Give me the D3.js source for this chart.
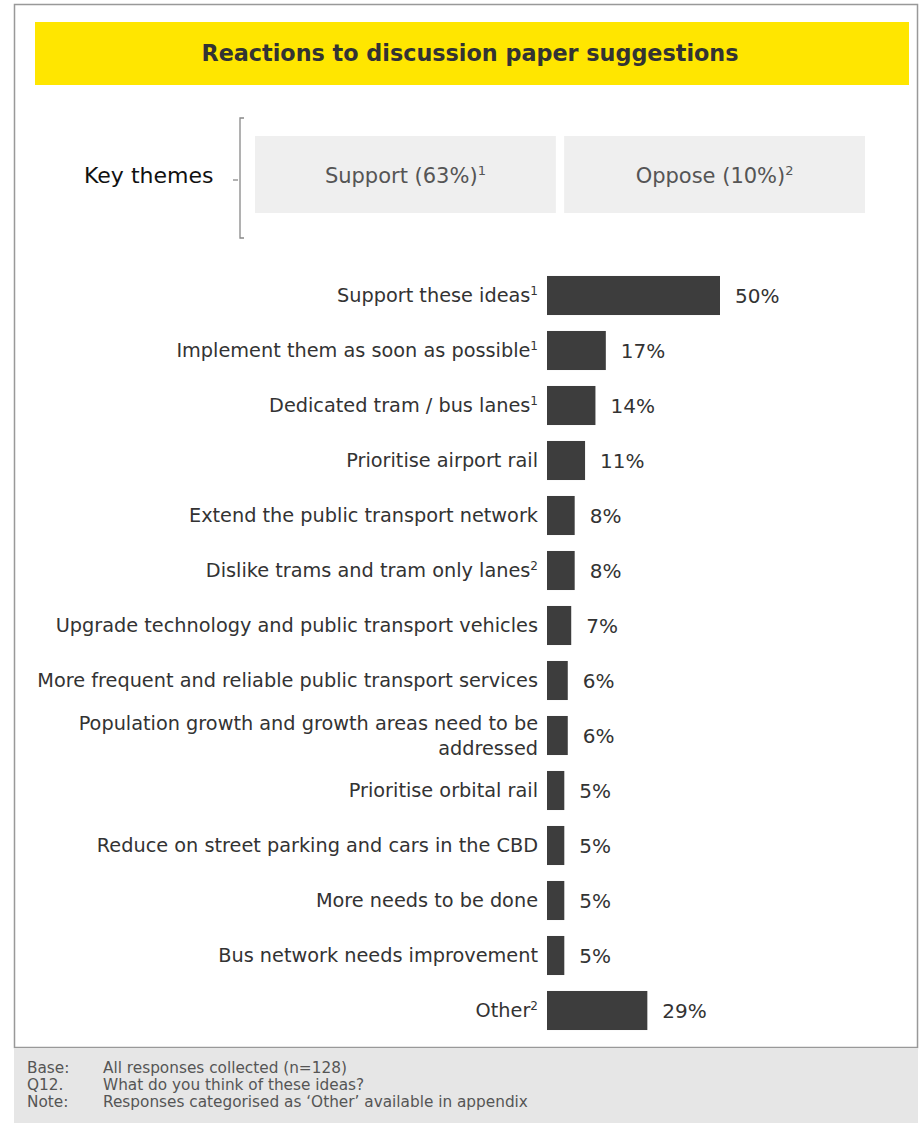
<!DOCTYPE html>
<html><head><meta charset="utf-8">
<script src="https://cdn.jsdelivr.net/npm/d3@7/dist/d3.min.js"></script>
<style>body{margin:0;background:#fff}svg{display:block}</style>
</head><body>
<script>
const categories = [
  "Support these ideas", "Implement them as soon as possible", "Dedicated tram / bus lanes",
  "Prioritise airport rail", "Extend the public transport network", "Dislike trams and tram only lanes",
  "Upgrade technology and public transport vehicles", "More frequent and reliable public transport services",
  "Population growth and growth areas need to be|addressed", "Prioritise orbital rail",
  "Reduce on street parking and cars in the CBD", "More needs to be done",
  "Bus network needs improvement", "Other"
];
const footnotes = ["1","1","1","","","2","","","","","","","","2"];
const values = [50,17,14,11,8,8,7,6,6,5,5,5,5,29];
const themes = ["Support (63%)", "Oppose (10%)"];
const themeNotes = ["1","2"];
const footLabels = ["Base:", "Q12.", "Note:"];
const footTexts = ["All responses collected (n=128)", "What do you think of these ideas?", "Responses categorised as \u2018Other\u2019 available in appendix"];

const W = 923, H = 1123;
const font = "'DejaVu Sans', sans-serif";
const svg = d3.select("body").append("svg").attr("width", W).attr("height", H).style("font-family", font);

// outer frame
svg.append("rect").attr("x", 14.5).attr("y", 4.5).attr("width", 903).attr("height", 1043)
  .attr("fill", "#fff").attr("stroke", "#999").attr("stroke-width", 1.5);
// footer
svg.append("rect").attr("x", 14).attr("y", 1048).attr("width", 904).attr("height", 75).attr("fill", "#e6e6e6");
footLabels.forEach((l, i) => {
  const y = 1073 + i * 17;
  svg.append("text").attr("x", 27).attr("y", y).text(l).attr("font-size", 15.3).attr("fill", "#555");
  svg.append("text").attr("x", 103).attr("y", y).text(footTexts[i]).attr("font-size", 15.3).attr("fill", "#555");
});

// title banner
svg.append("rect").attr("x", 35).attr("y", 22).attr("width", 874).attr("height", 63).attr("fill", "#ffe600");
svg.append("text").attr("x", 470).attr("y", 61).attr("text-anchor", "middle")
  .attr("font-size", 22.3).attr("font-weight", "bold").attr("fill", "#333")
  .text("Reactions to discussion paper suggestions");

// key themes
svg.append("text").attr("x", 84).attr("y", 183).attr("font-size", 22).attr("fill", "#111").text("Key themes");
svg.append("path").attr("d", "M244,118 H240 V238 H244").attr("fill", "none").attr("stroke", "#888").attr("stroke-width", 1.3);
svg.append("line").attr("x1", 233).attr("x2", 238).attr("y1", 180).attr("y2", 180).attr("stroke", "#888").attr("stroke-width", 1.3);
const tx = d3.scaleBand().domain(themes).range([255, 865]).paddingInner(0.027);
themes.forEach((t, i) => {
  svg.append("rect").attr("x", tx(t)).attr("y", 136).attr("width", tx.bandwidth()).attr("height", 77).attr("fill", "#efefef");
  const tt = svg.append("text").attr("x", tx(t) + tx.bandwidth() / 2).attr("y", 183).attr("text-anchor", "middle")
    .attr("font-size", 21).attr("fill", "#555");
  tt.append("tspan").text(t);
  tt.append("tspan").text(themeNotes[i]).attr("font-size", 13).attr("dy", -8);
});

// bars
const x = d3.scaleLinear().domain([0, 50]).range([547, 720]);
const y = d3.scaleBand().domain(categories).range([268, 1038]).paddingInner(0.29).paddingOuter(0.145);
svg.selectAll("rect.bar").data(values).join("rect").attr("class", "bar")
  .attr("x", x(0)).attr("y", (d, i) => y(categories[i]))
  .attr("width", d => x(d) - x(0)).attr("height", y.bandwidth()).attr("fill", "#3d3d3d");
svg.selectAll("text.val").data(values).join("text").attr("class", "val")
  .attr("x", d => x(d) + 15).attr("y", (d, i) => y(categories[i]) + y.bandwidth() / 2 + 7)
  .attr("font-size", 20).attr("fill", "#333").text(d => d + "%");
categories.forEach((c, i) => {
  const lines = c.split("|");
  const cy = y(c) + y.bandwidth() / 2;
  lines.forEach((ln, j) => {
    const ty = cy + 6.5 + (j - (lines.length - 1) / 2) * 25;
    const t = svg.append("text").attr("x", 538).attr("y", ty).attr("text-anchor", "end")
      .attr("font-size", 19.3).attr("fill", "#333");
    t.append("tspan").text(ln);
    if (j === lines.length - 1 && footnotes[i]) {
      t.append("tspan").text(footnotes[i]).attr("font-size", 12).attr("dy", -7);
    }
  });
});
</script>
</body></html>
